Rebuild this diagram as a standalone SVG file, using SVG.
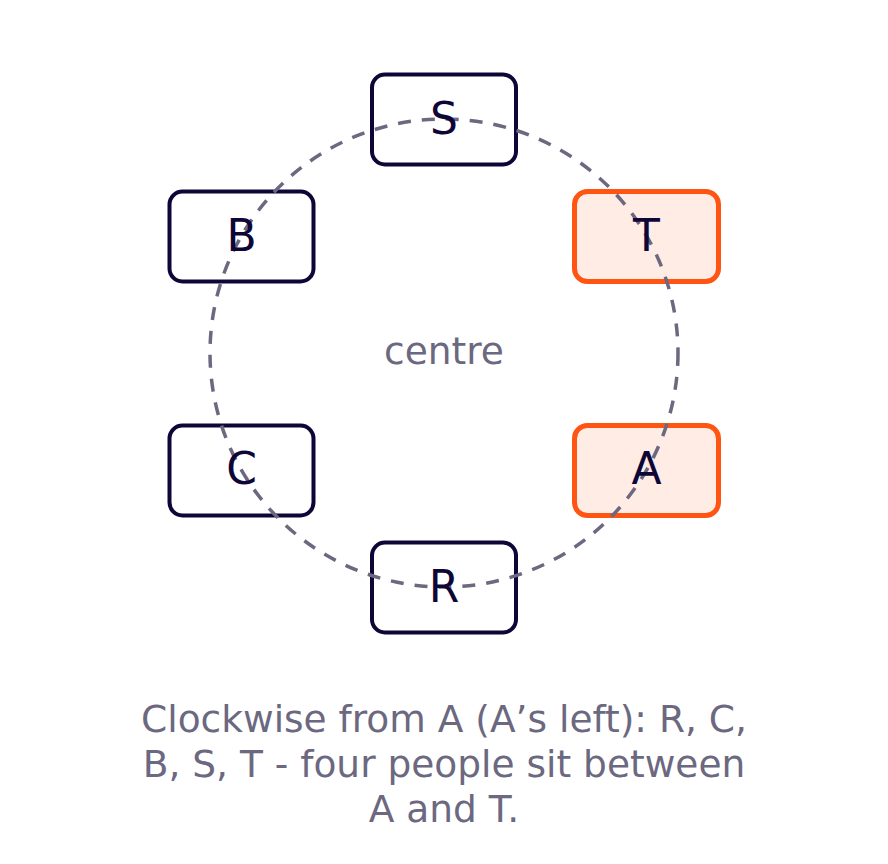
<svg xmlns="http://www.w3.org/2000/svg" width="888" height="864" viewBox="0 0 888 864">
<style>
.box{fill:#ffffff;stroke:#0d0637;stroke-width:4}
.hl{fill:#ffece5;stroke:#ff5412;stroke-width:5}
.lbl{font-family:"DejaVu Sans",sans-serif;font-size:44px;fill:#0d0637;text-anchor:middle}
.ring{fill:none;stroke:#6b6880;stroke-width:3.5;stroke-dasharray:13 11}
.note{font-family:"DejaVu Sans",sans-serif;fill:#6b6880;text-anchor:middle;font-size:37.5px}
</style>
<rect width="888" height="864" fill="#ffffff"/>
<g id="S"><rect class="box" x="372" y="74.5" width="144" height="90" rx="13"/></g>
<g id="T"><rect class="hl" x="574.5" y="191.5" width="144" height="90" rx="13"/></g>
<g id="A"><rect class="hl" x="574.5" y="425.5" width="144" height="90" rx="13"/></g>
<g id="R"><rect class="box" x="372" y="542.5" width="144" height="90" rx="13"/></g>
<g id="C"><rect class="box" x="169.5" y="425.5" width="144" height="90" rx="13"/></g>
<g id="B"><rect class="box" x="169.5" y="191.5" width="144" height="90" rx="13"/></g>
<g id="connectors"><circle class="ring" cx="444" cy="353" r="234"/></g>
<g id="labels">
<text class="lbl" x="444" y="133.5">S</text>
<text class="lbl" x="646.5" y="250.5">T</text>
<text class="lbl" x="646.5" y="484">A</text>
<text class="lbl" x="444" y="601.5">R</text>
<text class="lbl" x="241.5" y="484">C</text>
<text class="lbl" x="241.5" y="250.5">B</text>
</g>
<text class="note" x="444" y="364">centre</text>
<g id="caption" class="note">
<text x="444" y="732">Clockwise from A (A’s left): R, C,</text>
<text x="444" y="777">B, S, T - four people sit between</text>
<text x="444" y="822">A and T.</text>
</g>
</svg>
